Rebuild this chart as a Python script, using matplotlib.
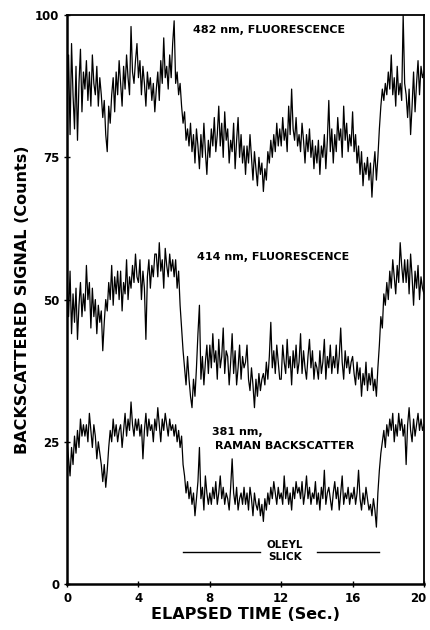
import numpy as np
import matplotlib
matplotlib.use("Agg")
import matplotlib.pyplot as plt
from matplotlib.transforms import ScaledTranslation

# counts, 12 samples per second, 0 to 20 s

# 482 nm fluorescence
fluor_482 = [
    84, 93, 79, 95, 86, 80, 91, 78, 88, 94, 83, 90,
    87, 92, 85, 90, 84, 93, 88, 86, 91, 84, 89, 86,
    82, 85, 79, 76, 84, 81, 86, 89, 83, 90, 86, 92,
    88, 84, 91, 87, 93, 89, 86, 98, 90, 88, 92, 95,
    89, 92, 86, 91, 88, 84, 90, 87, 89, 85, 88, 83,
    87, 90, 85, 92, 88, 96, 89, 91, 87, 93, 89, 95,
    99, 88, 90, 86, 88, 84, 81, 83, 78, 80, 77, 81,
    76, 79, 74, 80, 77, 73, 79, 75, 81, 76, 72, 78,
    75, 80, 77, 82, 76, 79, 84, 77, 81, 75, 83, 78,
    80, 74, 78, 76, 81, 73, 78, 82, 75, 79, 74, 77,
    72, 77, 74, 79, 75, 71, 76, 73, 70, 75, 72, 74,
    69, 73, 71, 76, 74, 78, 75, 79, 76, 81, 77, 80,
    77, 82, 78, 80, 76, 84, 79, 87, 80, 78, 82, 77,
    79, 76, 81, 78, 74, 79, 76, 80, 75, 78, 73, 77,
    74, 78, 72, 77, 75, 79, 73, 78, 85, 76, 80, 74,
    79, 76, 82, 78, 80, 75, 84, 78, 81, 76, 79, 77,
    83, 76, 79, 74, 77, 72, 76, 70, 74, 72, 75, 71,
    74, 68, 73, 76, 71, 75, 80, 84, 87, 85, 88, 86,
    90, 87, 93, 86, 89, 84, 91, 86, 88, 85, 100, 88,
    86, 82, 87, 79, 84, 90, 83, 88, 92, 86, 91, 89,
    90,
]

# 414 nm fluorescence
fluor_414 = [
    54, 47, 55, 44, 51, 46, 52, 43, 49, 53, 47, 51,
    48, 56, 50, 53, 45, 52, 47, 50, 44, 49, 46, 48,
    41, 46, 50, 48, 53, 50, 56, 49, 54, 51, 55, 50,
    55, 48, 53, 51, 57, 50, 54, 52, 56, 53, 58, 54,
    53, 57, 50, 55, 52, 43, 54, 57, 52, 56, 54, 58,
    58, 54, 60, 55, 57, 52, 59, 56, 54, 58, 55, 57,
    54, 57, 52, 55, 49, 45, 41, 38, 35, 40, 36, 33,
    31, 36, 33, 38, 44, 49, 36, 40, 35, 39, 42, 37,
    42, 38, 44, 39, 41, 36, 43, 38, 40, 45, 37, 41,
    40, 35, 39, 44, 37, 41, 35, 38, 42, 36, 40, 38,
    39, 42, 36, 34, 38, 35, 31, 36, 33, 37, 34, 36,
    37, 35, 39, 36, 40, 46, 38, 41, 37, 42, 39, 36,
    36, 42, 39, 37, 43, 38, 40, 35, 41, 38, 42, 37,
    39, 44, 37, 41, 38, 36, 40, 43, 38, 41, 36, 39,
    38, 36, 41, 37, 39, 43, 36, 40, 38, 42, 37, 40,
    38, 42, 37, 40, 45, 39, 36, 41, 38, 40, 37, 39,
    40, 37, 35, 39, 36, 38, 33, 37, 35, 39, 34, 37,
    35, 38, 34, 36, 33, 38, 42, 47, 45, 51, 49, 53,
    50, 55, 52, 57, 54, 51, 56, 53, 60, 56, 53, 57,
    53, 57, 51, 58, 54, 49, 55, 52, 56, 50, 54, 52,
    51,
]

# 381 nm Raman backscatter
raman_381 = [
    25, 22, 19, 24, 21, 26, 23, 27, 24, 29, 26, 28,
    26, 28, 25, 30, 27, 24, 28, 26, 22, 25, 23, 21,
    18, 21, 17, 20, 24, 27, 25, 29, 26, 28, 25, 27,
    28, 24, 27, 30, 26, 29, 27, 32, 28, 26, 29, 27,
    29, 26, 28, 22, 27, 30, 26, 29, 27, 28, 25, 29,
    27, 31, 28, 25, 29, 27, 30, 28, 26, 29, 27, 28,
    26, 28, 25, 27, 24, 26, 21, 19, 16, 18, 15, 17,
    14, 16, 12, 15, 18, 24, 15, 17, 13, 19, 16, 14,
    16, 14, 17, 15, 18, 14, 16, 19, 15, 17, 14, 16,
    15, 13, 17, 22, 16, 14, 17, 13, 15, 16, 14, 17,
    14, 16, 13, 17, 15, 12, 16, 14, 13, 15, 12, 14,
    11, 15, 13, 16, 14, 17, 15, 18, 16, 14, 17, 15,
    16, 14, 19, 15, 17, 14, 16, 13, 17, 15, 18, 16,
    17, 15, 18, 14, 16, 19, 15, 17, 14, 16, 15, 18,
    14, 16, 13, 17, 15, 20, 14, 16, 17, 15, 13, 16,
    18, 15, 17, 13, 16, 19, 14, 16, 15, 17, 14, 16,
    15, 17, 14, 16, 20, 15, 13, 16, 14, 17, 15, 13,
    14, 12, 15, 13, 10, 16, 20, 23, 25, 27, 24, 28,
    26, 29, 27, 30, 25, 28, 26, 30, 27, 29, 26, 28,
    21, 28, 31, 27, 25, 29, 26, 28, 30, 27, 29, 27,
    28,
]

x_ticks = [0, 4, 8, 12, 16, 20]
y_ticks = [0, 25, 50, 75, 100]

# slick passes under the sensor between these times
slick_start, slick_end = 6.5, 17.5

fig = plt.figure(figsize=(4.3, 6.3), dpi=100)
ax = fig.add_axes([0.156, 0.073, 0.830, 0.903])

for series in [fluor_482, fluor_414, raman_381]:
    t = np.linspace(0, 20, len(series))
    ax.plot(t, series, color="black", linewidth=0.9)

ax.set_xlim(0, 20)
ax.set_ylim(0, 100)
ax.set_xticks(x_ticks)
ax.set_yticks(y_ticks)
ax.tick_params(direction="inout", length=4, width=1, labelsize=8.5)
for lab in ax.get_xticklabels() + ax.get_yticklabels():
    lab.set_fontweight("bold")
# nudge the last x label so it stays inside the figure
last = ax.get_xticklabels()[-1]
last.set_transform(last.get_transform() + ScaledTranslation(-4 / 72, 0, fig.dpi_scale_trans))

for side in ["left", "bottom"]:
    ax.spines[side].set_linewidth(1.8)
for side in ["top", "right"]:
    ax.spines[side].set_linewidth(1.3)

ax.set_xlabel("ELAPSED TIME (Sec.)", fontsize=11.5, fontweight="bold", labelpad=2)
ax.set_ylabel("BACKSCATTERED SIGNAL (Counts)", fontsize=11.5, fontweight="bold", labelpad=4)

# curve labels
ax.text(7.06, 97.3, "482 nm, FLUORESCENCE", fontsize=8, fontweight="bold", va="center")
ax.text(7.28, 57.5, "414 nm, FLUORESCENCE", fontsize=8, fontweight="bold", va="center")
ax.text(8.12, 26.7, "381 nm,", fontsize=8, fontweight="bold", va="center")
ax.text(8.29, 24.25, "RAMAN BACKSCATTER", fontsize=8, fontweight="bold", va="center")

# slick marker
ax.plot([slick_start, 10.8], [5.6, 5.6], color="black", linewidth=1.0)
ax.plot([14.0, slick_end], [5.6, 5.6], color="black", linewidth=1.0)
ax.text(12.2, 6.85, "OLEYL", fontsize=7.5, fontweight="bold", ha="center", va="center")
ax.text(12.2, 4.75, "SLICK", fontsize=7.5, fontweight="bold", ha="center", va="center")

fig.savefig("out.png", dpi=100)
